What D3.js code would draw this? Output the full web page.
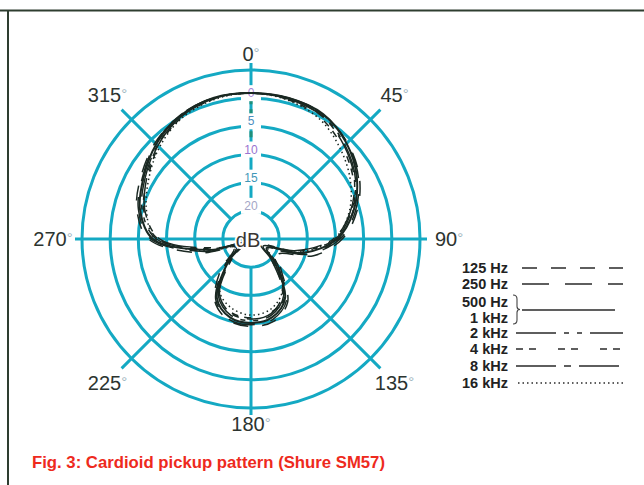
<!DOCTYPE html>
<html>
<head>
<meta charset="utf-8">
<script src="https://cdn.jsdelivr.net/npm/d3@7"></script>
<style>
  html, body { margin: 0; padding: 0; background: #ffffff; }
  svg { display: block; }
</style>
</head>
<body>
<svg id="chart" width="644" height="485"></svg>
<script>
// Measurement angles (degrees, clockwise from on-axis)
const angles = [0, 15, 30, 45, 60, 75, 90, 105, 120, 135, 150, 165,
                180, 195, 210, 225, 240, 255, 270, 285, 300, 315, 330, 345];

// Relative response in dB for each frequency band
const s125  = [0.9, 0.8, 0.5, -0.8, -2.8, -5.5, -8.8, -13.5, -19.5, -17.5, -12.0, -9.8,
               -9.5, -10.0, -12.2, -17.5, -21.5, -15.5, -6.8, -4.0, -2.5, -0.9, 0.3, 0.9];
const s250  = [0.9, 0.9, 0.6, -0.9, -3.0, -5.8, -9.2, -14.5, -20.5, -18.2, -12.4, -10.2,
               -9.8, -10.2, -12.5, -18.5, -22.0, -16.5, -7.2, -4.3, -2.8, -1.0, 0.3, 0.9];
const s500  = [0.9, 0.9, 0.6, -1.0, -3.3, -6.2, -9.7, -15.4, -21.8, -19.0, -12.9, -10.6,
               -10.1, -10.6, -12.9, -19.3, -22.9, -17.5, -7.6, -4.6, -3.0, -1.2, 0.2, 0.9];
const s2k   = [0.9, 0.8, 0.3, -1.4, -3.6, -6.6, -10.0, -16.5, -22.5, -19.8, -13.4, -11.0,
               -10.5, -11.0, -13.4, -20.0, -23.5, -18.5, -8.2, -5.0, -3.3, -1.5, 0.0, 0.8];
const s4k   = [0.9, 0.6, -0.2, -2.0, -4.0, -6.3, -9.4, -14.8, -21.0, -18.5, -13.0, -11.5,
               -11.0, -11.5, -13.5, -19.5, -22.5, -18.0, -8.5, -5.3, -3.8, -1.8, -0.2, 0.7];
const s8k   = [0.9, 0.7, 0.2, -1.6, -3.8, -6.8, -10.4, -17.0, -23.0, -20.0, -13.8, -11.3,
               -10.8, -11.3, -13.8, -20.5, -23.8, -19.0, -8.8, -5.5, -3.6, -1.6, 0.0, 0.8];
const s16k  = [0.9, 0.5, -0.5, -2.5, -4.6, -7.0, -10.2, -16.0, -21.5, -18.0, -14.0, -12.0,
               -11.5, -12.2, -14.0, -19.0, -22.0, -17.0, -8.0, -5.8, -4.0, -2.0, -0.3, 0.6];

// Legend row labels
const seriesLabels = ["125 Hz", "250 Hz", "500 Hz", "1 kHz", "2 kHz", "4 kHz", "8 kHz", "16 kHz"];

// Grid rings (dB) and dB scale labels
const ringLevels = [-20, -15, -10, -5, 0, 5];
const dbTickLevels = [0, -5, -10, -15, -20];
const dbTickLabels = ["0", "5", "10", "15", "20"];
const spokeAngles = [0, 45, 90, 135, 180, 225, 270, 315];

const caption = "Fig. 3: Cardioid pickup pattern (Shure SM57)";

const svg = d3.select("#chart");
const cx = 251, cy = 239;
const grid = "#14a9c3";
const ink = "#1a2822";
const sans = "Liberation Sans, Arial, Helvetica, sans-serif";

const r = d3.scaleLinear().domain([-25, 5]).range([0, 169]);
const rad = d => d * Math.PI / 180;
const px = (a, rr) => cx + Math.sin(rad(a)) * rr;
const py = (a, rr) => cy - Math.cos(rad(a)) * rr;

// frame
svg.append("line").attr("x1", 0).attr("x2", 644).attr("y1", 10.5).attr("y2", 10.5)
  .attr("stroke", "#2e3d30").attr("stroke-width", 2);
svg.append("line").attr("x1", 8).attr("x2", 8).attr("y1", 10).attr("y2", 485)
  .attr("stroke", "#2e3d30").attr("stroke-width", 2);

const g = svg.append("g");

// rings
g.selectAll("circle.ring").data(ringLevels).join("circle")
  .attr("class", "ring")
  .attr("cx", cx).attr("cy", cy).attr("r", d => r(d))
  .attr("fill", "none").attr("stroke", grid).attr("stroke-width", 3);

// spokes
const spokeEnd = d => d % 90 === 0 ? r(5) + 7 : r(5) + 14;
const spokeStart = d => (d === 90 || d === 270) ? 0 : r(-20);
g.selectAll("line.spoke").data(spokeAngles).join("line")
  .attr("class", "spoke")
  .attr("x1", d => px(d, spokeStart(d))).attr("y1", d => py(d, spokeStart(d)))
  .attr("x2", d => px(d, spokeEnd(d))).attr("y2", d => py(d, spokeEnd(d)))
  .attr("stroke", grid).attr("stroke-width", 3);

// dashed section on the on-axis spoke
g.append("line")
  .attr("x1", cx).attr("x2", cx)
  .attr("y1", py(0, r(0))).attr("y2", py(0, r(-10)))
  .attr("stroke", "#1f8f7a").attr("stroke-width", 3)
  .attr("stroke-dasharray", "6,5");

// dB scale labels with clearance in the spoke
const tickColors = ["#a584d8", "#4d8fbf", "#9a74cf", "#3f97b8", "#a4a6c6"];
const tl = g.selectAll("g.dbt").data(dbTickLevels).join("g").attr("class", "dbt");
tl.append("rect")
  .attr("x", cx - 10).attr("width", 20)
  .attr("y", d => py(0, r(d) + 5) - 8).attr("height", 16)
  .attr("fill", "#fff");
tl.append("text")
  .attr("x", cx).attr("y", d => py(0, r(d) + 5))
  .attr("text-anchor", "middle").attr("dominant-baseline", "central")
  .attr("font-family", sans)
  .attr("font-size", 12)
  .attr("fill", (d, i) => tickColors[i])
  .text((d, i) => dbTickLabels[i]);

// response curves
const line = d3.lineRadial()
  .angle((d, i) => rad(angles[i]))
  .radius(d => r(d))
  .curve(d3.curveCatmullRomClosed.alpha(0.5));

const series = [
  { label: "125 Hz", values: s125, dash: "15,14" },
  { label: "250 Hz", values: s250, dash: "27,16" },
  { label: "500 Hz / 1 kHz", values: s500, dash: null },
  { label: "2 kHz", values: s2k, dash: "40,8,5,8,5,8" },
  { label: "4 kHz", values: s4k, dash: "7,6,7,22" },
  { label: "8 kHz", values: s8k, dash: "40,8,7,8" },
  { label: "16 kHz", values: s16k, dash: "1.5,3" }
];

const curves = g.append("g").attr("transform", `translate(${cx},${cy})`);
curves.selectAll("path").data(series).join("path")
  .attr("d", d => line(d.values))
  .attr("fill", "none")
  .attr("stroke", ink)
  .attr("stroke-width", d => d.dash ? 1.5 : 2)
  .attr("stroke-dasharray", d => d.dash);

// centre "dB" label
g.append("text")
  .attr("x", cx - 3).attr("y", cy + 1)
  .attr("text-anchor", "middle").attr("dominant-baseline", "central")
  .attr("font-family", sans)
  .attr("font-size", 20)
  .attr("fill", "#3a3634")
  .attr("stroke", "#fff").attr("stroke-width", 4).attr("paint-order", "stroke")
  .text("dB");

// angle labels
const labelRadius = a => (a === 0 || a === 180) ? 185 : (a % 90 === 0 ? 198 : 203);
const al = g.selectAll("text.ang").data(spokeAngles).join("text")
  .attr("class", "ang")
  .attr("x", d => px(d, labelRadius(d)))
  .attr("y", d => py(d, labelRadius(d)))
  .attr("text-anchor", "middle").attr("dominant-baseline", "central")
  .attr("font-family", sans)
  .attr("font-size", 20)
  .attr("fill", "#2c3430");
al.append("tspan").text(d => String(d));
al.append("tspan").attr("font-size", 15).attr("dy", -2).attr("fill", "#9fb6c0").text("°");

// legend
const legX = 508, lineX1 = 522, lineX2 = 623;
const rowY = [268, 284, 302, 318, 333, 349, 366, 383];
const leg = svg.append("g")
  .attr("font-family", sans)
  .attr("font-size", 14.5).attr("font-weight", "bold").attr("fill", "#222");
seriesLabels.forEach((lab, i) => {
  leg.append("text").attr("x", legX).attr("y", rowY[i])
    .attr("text-anchor", "end").attr("dominant-baseline", "central").text(lab);
});
const legendLines = [
  { s: 0, y: rowY[0], x1: lineX1 },
  { s: 1, y: rowY[1], x1: lineX1 },
  { s: 2, y: (rowY[2] + rowY[3]) / 2, x1: lineX1, x2: 615 },
  { s: 3, y: rowY[4], x1: 516 },
  { s: 4, y: rowY[5], x1: 516 },
  { s: 5, y: rowY[6], x1: 516 },
  { s: 6, y: rowY[7], x1: 518 }
];
legendLines.forEach(l => {
  leg.append("line")
    .attr("x1", l.x1).attr("x2", l.x2 || lineX2)
    .attr("y1", l.y).attr("y2", l.y)
    .attr("stroke", "#2a2a2a").attr("stroke-width", 1.6)
    .attr("stroke-dasharray", series[l.s].dash);
});
// brace joining 500 Hz and 1 kHz
const by1 = rowY[2] - 7, by2 = rowY[3] + 6, bm = (by1 + by2) / 2;
leg.append("path")
  .attr("d", `M513,${by1} Q517,${by1} 517,${by1 + 4} L517,${bm - 3} Q517,${bm} 520,${bm}
              Q517,${bm} 517,${bm + 3} L517,${by2 - 4} Q517,${by2} 513,${by2}`)
  .attr("fill", "none").attr("stroke", "#444").attr("stroke-width", 1.1);

// caption
svg.append("text")
  .attr("x", 32).attr("y", 468)
  .attr("font-family", "Liberation Sans Narrow, Liberation Sans, Arial, sans-serif")
  .attr("font-size", 17).attr("font-weight", "bold")
  .attr("fill", "#ee2a1d")
  .attr("textLength", 353).attr("lengthAdjust", "spacingAndGlyphs")
  .text(caption);
</script>
</body>
</html>
